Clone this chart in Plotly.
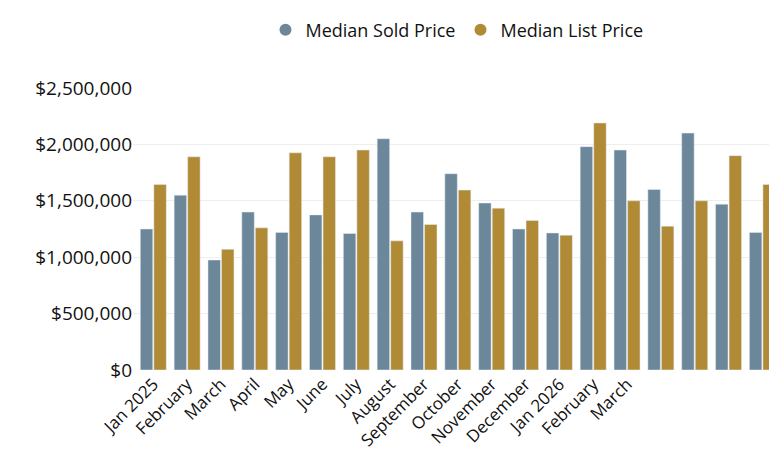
import plotly.graph_objects as go

months = ["Jan 2025", "February", "March", "April", "May", "June", "July", "August",
          "September", "October", "November", "December", "Jan 2026", "February", "March",
          "", "", "", ""]
sold = [1250000, 1550000, 975000, 1400000, 1220000, 1375000, 1210000, 2050000,
        1400000, 1740000, 1480000, 1250000, 1215000, 1980000, 1950000,
        1600000, 2100000, 1470000, 1220000]
listed = [1645000, 1890000, 1070000, 1260000, 1925000, 1890000, 1950000, 1145000,
          1290000, 1595000, 1435000, 1325000, 1195000, 2190000, 1500000,
          1275000, 1500000, 1900000, 1645000]

blue = "#6b8799"
gold = "#b08a35"
xs = list(range(len(months)))

fig = go.Figure()
fig.add_bar(x=xs, y=sold, marker_color=blue, showlegend=False, name="Median Sold Price")
fig.add_bar(x=xs, y=listed, marker_color=gold, showlegend=False, name="Median List Price")
# circle legend entries
for name, c in [("Median Sold Price", blue), ("Median List Price", gold)]:
    fig.add_scatter(x=[None], y=[None], mode="markers", name=name,
                    marker=dict(color=c, size=20, symbol="circle"))

fig.update_layout(
    width=777, height=468,
    barmode="group", bargap=0.2, bargroupgap=0.08,
    plot_bgcolor="white", paper_bgcolor="white",
    font=dict(family="Open Sans", size=18, color="#111"),
    margin=dict(l=125, r=4, t=58, b=106),
    legend=dict(orientation="h", x=0.5, xanchor="center", y=1.14, yanchor="bottom",
                font=dict(size=18), itemsizing="constant"),
    xaxis=dict(tickvals=xs[:15], ticktext=months[:15], tickangle=-45,
               range=[-0.6, 18.55], showgrid=False, ticks="", tickfont=dict(size=17)),
    yaxis=dict(range=[0, 2500000], dtick=500000, tickprefix="$", tickformat=",",
               gridcolor="#eeeeee", zeroline=False, tickfont=dict(size=19)),
)
fig.write_html("out.html")
